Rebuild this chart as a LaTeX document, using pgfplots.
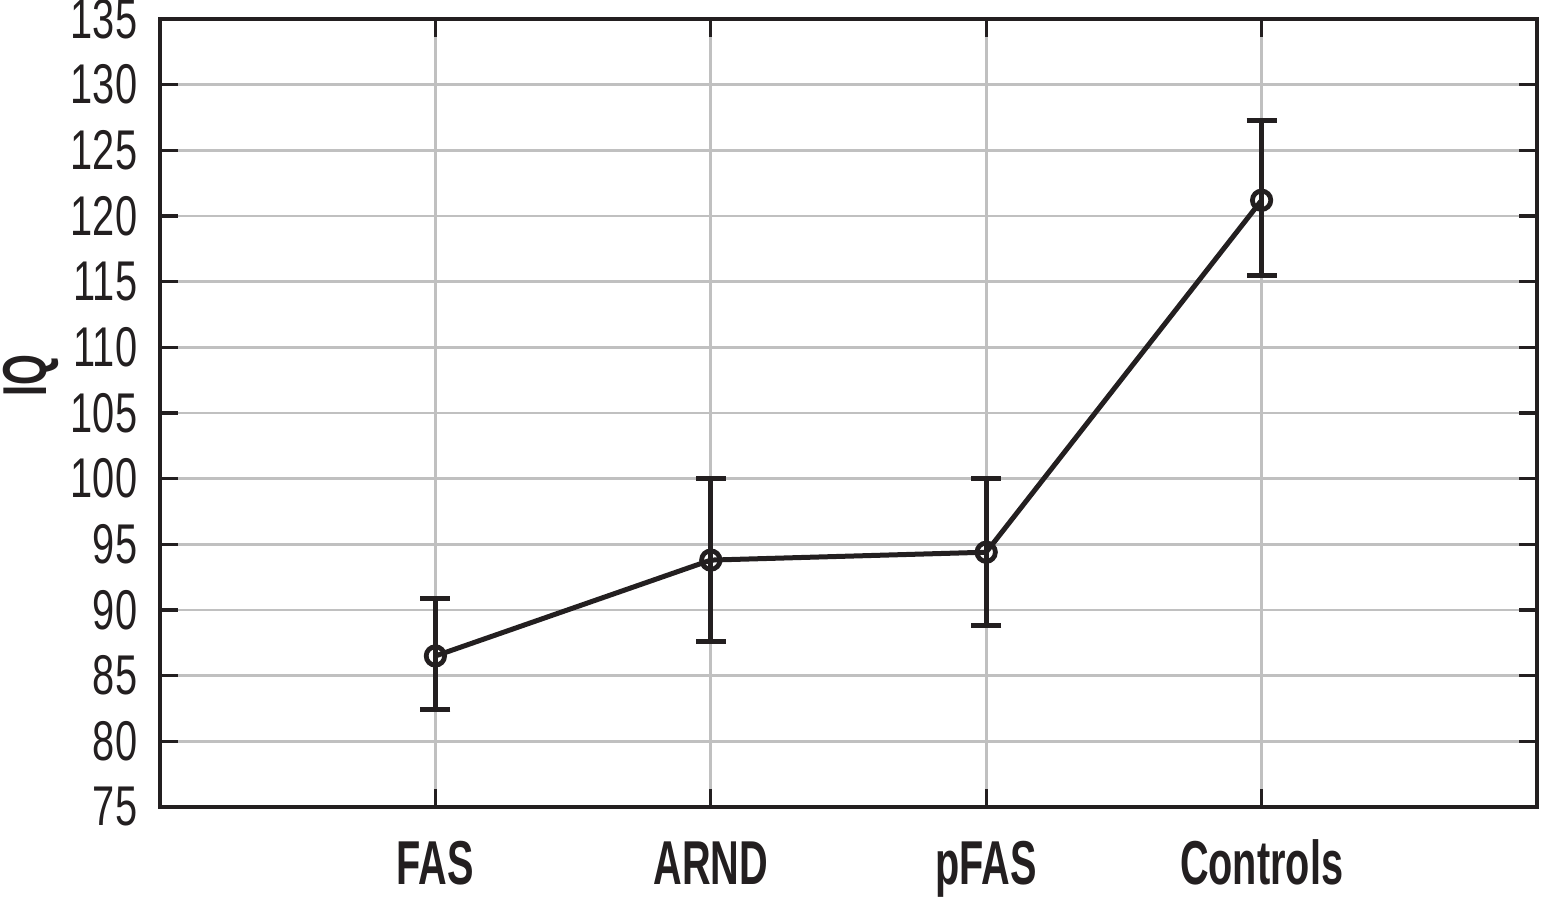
\documentclass[border=0pt]{standalone}
\usepackage{fontspec}
\setmainfont{Liberation Sans}[FakeStretch=0.71]
\newfontfamily\bcond{Liberation Sans Bold}[FakeStretch=0.64]
\usepackage{pgfplots}
\pgfplotsset{compat=1.18}
\definecolor{ink}{HTML}{231F20}
\definecolor{gridc}{HTML}{C0C0C0}
\begin{document}
\begin{tikzpicture}
\begin{axis}[
  scale only axis,
  width=344.25pt, height=197pt,
  xmin=0, xmax=5, ymin=75, ymax=135,
  xtick={1,2,3,4},
  xticklabels={FAS,ARND,pFAS,Controls},
  ytick={75,80,...,135},
  tick align=inside,
  major tick length=4.5pt,
  tick style={ink, line width=0.8pt},
  axis line style={ink, line width=0.8pt},
  grid=major,
  major grid style={gridc, line width=0.7pt},
  /pgf/number format/assume math mode=true,
  yticklabel style={font=\fontsize{14}{14}\selectfont, text=ink, inner sep=0pt, xshift=-5.5pt},
  xticklabel style={font=\bcond\fontsize{15.5}{15.5}\selectfont, text=ink, inner sep=0pt, anchor=base, yshift=-19.5pt},
  ylabel={IQ},
  ylabel style={font=\bcond\fontsize{15.5}{15.5}\selectfont, text=ink, at={(axis description cs:-0.0935,0.548)}, anchor=center, rotate=0},
  clip=false,
]
\addplot[ink, line width=1.25pt, mark=o, mark size=2.3pt,
  mark options={line width=1.2pt, solid},
  error bars/.cd, y dir=both, y explicit,
  error bar style={ink, line width=1.2pt},
  error mark options={ink, line width=1.2pt, mark size=3.75pt, rotate=90}]
  coordinates {
    (1,86.5)  += (0,4.4) -= (0,4.1)
    (2,93.8)  += (0,6.2) -= (0,6.2)
    (3,94.4)  += (0,5.6) -= (0,5.6)
    (4,121.2) += (0,6.1) -= (0,5.7)
  };
\coordinate (sw) at (rel axis cs:0,0);
\coordinate (ne) at (rel axis cs:1,1);
\end{axis}
\pgfresetboundingbox
\useasboundingbox ([shift={(-40pt,-22.5pt)}]sw) rectangle ([shift={(1pt,4.75pt)}]ne);
\end{tikzpicture}
\end{document}
